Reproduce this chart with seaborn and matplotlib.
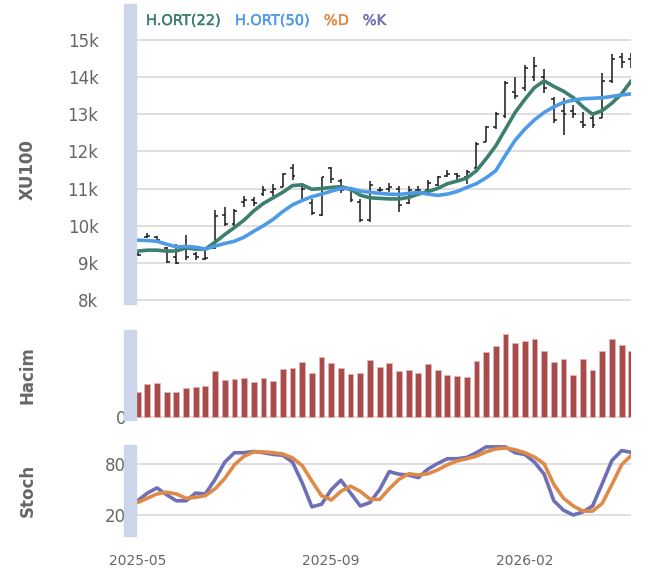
import numpy as np
import pandas as pd
import matplotlib
matplotlib.use("Agg")
import matplotlib.pyplot as plt
import matplotlib.patheffects as pe
from matplotlib.patches import Rectangle
import seaborn as sns

# weekly XU100 values
opens = [9230, 9700, 9700, 9400, 9150, 9450, 9250, 9100, 9400, 10300,
         10050, 10650, 10700, 10850, 10900, 11050, 11550, 11100, 10600, 10300,
         11550, 11200, 10950, 10650, 10150, 10950, 11000, 11000, 10600, 10950,
         10950, 11100, 11350, 11400, 11300, 11550, 12250, 12650, 12950, 13600,
         13700, 14000, 14000, 13400, 13100, 13100, 12800, 12900, 12900, 13900,
         14550, 14500]
highs = [9300, 9800, 9720, 9420, 9500, 9740, 9300, 9420, 10410, 10490,
         10440, 10790, 10760, 11060, 11110, 11430, 11650, 11140, 10710, 11320,
         11570, 11270, 10980, 10710, 11190, 11030, 11160, 11060, 11060, 11060,
         11220, 11350, 11490, 11430, 11510, 12240, 12690, 13070, 13900, 14000,
         14330, 14540, 14220, 13470, 13440, 13250, 13070, 13070, 14110, 14620,
         14650, 14650]
lows = [9180, 9660, 9580, 9000, 8970, 9070, 9070, 9070, 9370, 9980,
        9980, 10490, 10520, 10810, 10810, 11030, 11240, 10710, 10280, 10250,
        11160, 10890, 10650, 10090, 10090, 10840, 10900, 10360, 10570, 10840,
        10900, 11060, 11300, 11240, 11110, 11540, 12240, 12600, 12900, 13400,
        13630, 13900, 13580, 12770, 12450, 12900, 12640, 12640, 12900, 13840,
        14250, 14250]
closes = [9200, 9720, 9620, 9020, 9000, 9150, 9150, 9130, 10250, 10050,
          10400, 10700, 10620, 10950, 11000, 11400, 11350, 11000, 10350, 11300,
          11250, 10950, 10700, 10150, 11100, 10950, 11050, 10550, 10950, 10950,
          11150, 11300, 11400, 11350, 11450, 12200, 12650, 13000, 13850, 13500,
          14250, 14300, 13700, 12850, 13000, 13000, 12700, 12700, 13900, 14500,
          14400, 14400]
ma22 = [9314, 9340, 9340, 9314, 9320, 9400, 9370, 9370, 9555, 9760,
        9950, 10150, 10400, 10600, 10750, 10900, 11080, 11100, 10980, 11000,
        11030, 11050, 10980, 10820, 10750, 10735, 10720, 10720, 10760, 10850,
        10920, 11003, 11130, 11200, 11280, 11480, 11800, 12150, 12600, 13050,
        13400, 13720, 13900, 13750, 13620, 13450, 13200, 13000, 13100, 13300,
        13550, 13900]
ma50 = [9609, 9600, 9580, 9500, 9430, 9440, 9420, 9370, 9450, 9520,
        9580, 9690, 9850, 10000, 10170, 10380, 10560, 10680, 10780, 10850,
        10930, 11000, 11000, 10930, 10900, 10870, 10850, 10840, 10870, 10895,
        10850, 10815, 10850, 10920, 11030, 11130, 11290, 11480, 11900, 12300,
        12600, 12850, 13050, 13200, 13320, 13380, 13420, 13430, 13445, 13480,
        13520, 13550]
volume = [25, 32.4, 34, 25, 25, 29, 30, 30.7, 45.7, 36.7,
          37.4, 39, 35, 39, 36, 47.7, 48.7, 54.4, 43.4, 59.4,
          53.4, 49, 42.4, 43.4, 56.7, 49.7, 54, 46, 46.7, 44,
          52.4, 46.7, 42, 40.4, 39.7, 56, 64.7, 70.7, 83, 73.7,
          76, 77.7, 66, 55, 57.7, 41.4, 57.7, 46.7, 65.7, 77.4,
          71.7, 65.7]
stoch_k = [37, 46, 52, 44, 37, 37, 46, 45, 62, 82,
           93, 93, 94.5, 93, 91, 90, 82, 58, 30, 33,
           50, 61, 46, 31, 35, 50, 71, 68, 67, 64,
           74, 80.5, 86, 86, 87.5, 93, 99.8, 99.8, 99.8, 93,
           91, 82, 68, 37, 26, 20.5, 24, 31, 57, 84,
           95.5, 93.5]
stoch_d = [35, 40, 45, 47, 45, 40, 41, 43, 51, 63,
           79, 89, 94, 94, 93, 91.5, 87, 78, 60, 43,
           38, 48, 54, 48, 39, 38.6, 51, 62, 68.5, 67,
           68.5, 73, 79, 83.5, 86, 89, 94, 97.5, 98.5, 96.5,
           93, 88, 80, 56, 40, 31, 25, 25, 34, 56,
           79, 90]

date_ticks = [0, 20, 40]
date_labels = ["2025-05", "2025-09", "2026-02"]
price_ticks = [8000, 9000, 10000, 11000, 12000, 13000, 14000, 15000]
price_labels = ["8k", "9k", "10k", "11k", "12k", "13k", "14k", "15k"]
stoch_ticks = [20, 80]

df = pd.DataFrame({
    "idx": np.arange(len(closes)),
    "open": opens, "high": highs, "low": lows, "close": closes,
    "ma22": ma22, "ma50": ma50, "volume": volume,
    "k": stoch_k, "d": stoch_d,
})

sns.set_style("white")
plt.rcParams["font.family"] = ["DejaVu Sans"]

C22 = "#3d7f6f"
C50 = "#4d9be6"
CD = "#e08a47"
CK = "#6f6fb8"
GRID = "#d9d9d9"
TXT = "#666666"
BAND = "#cdd5ea"

fig = plt.figure(figsize=(6.51, 5.76), dpi=100)
left, width = 136 / 651, 495 / 651
ax1 = fig.add_axes([left, 1 - 304 / 576, width, 300 / 576])
ax2 = fig.add_axes([left, 1 - 420 / 576, width, 90 / 576])
ax3 = fig.add_axes([left, 1 - 536 / 576, width, 91 / 576])

# price panel: OHLC bars + moving averages
ax1.vlines(df["idx"], df["low"], df["high"], color="#1a1a1a", lw=1.1, zorder=3)
ax1.hlines(df["open"], df["idx"] - 0.3, df["idx"], color="#1a1a1a", lw=1.1, zorder=3)
ax1.hlines(df["close"], df["idx"], df["idx"] + 0.3, color="#1a1a1a", lw=1.1, zorder=3)
sns.lineplot(data=df, x="idx", y="ma22", ax=ax1, color=C22, lw=2.6, legend=False, zorder=4)
sns.lineplot(data=df, x="idx", y="ma50", ax=ax1, color=C50, lw=2.6, legend=False, zorder=4)
ax1.set_ylim(7890, 15970)
ax1.set_yticks(price_ticks)
ax1.set_yticklabels(price_labels)
ax1.tick_params(axis="y", pad=27)

# volume panel
sns.barplot(x=df["idx"], y=df["volume"], ax=ax2, color="#a84b4b", saturation=1,
            width=0.6, edgecolor="#e6b3b3", linewidth=0.6, zorder=3)
vmax = max(volume)
ax2.set_ylim(-0.04 * vmax, 1.045 * vmax)
ax2.set_yticks([0])
ax2.set_yticklabels(["0"])
ax2.tick_params(axis="y", pad=7)

# stochastic panel
sns.lineplot(data=df, x="idx", y="k", ax=ax3, color=CK, lw=2.6, legend=False, zorder=4)
sns.lineplot(data=df, x="idx", y="d", ax=ax3, color=CD, lw=2.6, legend=False, zorder=4)
ax3.set_ylim(-4, 102)
ax3.set_yticks(stoch_ticks)
ax3.tick_params(axis="y", pad=7)

for ax, name, ly in [(ax1, "XU100", 0.447), (ax2, "Hacim", 0.5), (ax3, "Stoch", 0.5)]:
    ax.set_xlim(-0.17, 50.97)
    ax.set_xticks(date_ticks)
    ax.set_xticklabels(date_labels if ax is ax3 else [])
    ax.tick_params(axis="x", length=4, width=1, color="#333333", direction="out",
                   labelsize=10, labelcolor=TXT, pad=9)
    ax.tick_params(axis="y", length=0, labelsize=12, labelcolor=TXT)
    ax.yaxis.grid(True, color=GRID, lw=1.2)
    ax.set_axisbelow(True)
    for s in ax.spines.values():
        s.set_visible(False)
    ax.set_xlabel("")
    ax.set_ylabel(name, fontsize=12, fontweight="bold", color=TXT)
    ax.yaxis.set_label_coords(-99 / 495, ly)
    pos = ax.get_position()
    fig.add_artist(Rectangle((124 / 651, pos.y0), 12 / 651, pos.height,
                             transform=fig.transFigure, color=BAND, zorder=5))

# text-only legend across the top
handles = [ax1.lines[0], ax1.lines[1], ax3.lines[1], ax3.lines[0]]
leg = ax1.legend(handles, ["H.ORT(22)", "H.ORT(50)", "%D", "%K"], loc="upper left",
                 bbox_to_anchor=(10 / 495, 0.97), ncol=4, frameon=False,
                 handlelength=0, handletextpad=0, columnspacing=0.95,
                 borderpad=0, borderaxespad=0, labelcolor="linecolor",
                 prop={"size": 10.5})
for t in leg.get_texts():
    t.set_path_effects([pe.withStroke(linewidth=0.3, foreground=t.get_color())])

plt.savefig("out.png", dpi=100)
plt.close()
